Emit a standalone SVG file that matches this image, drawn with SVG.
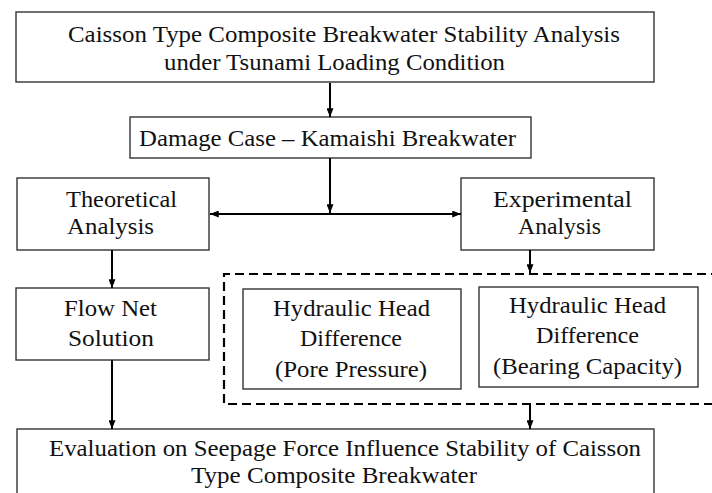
<svg xmlns="http://www.w3.org/2000/svg" width="712" height="493" viewBox="0 0 712 493">
<style>
.box{fill:#fff;stroke:#333;stroke-width:1.4}
.dash{fill:none;stroke:#000;stroke-width:2.2;stroke-dasharray:9 5}
.c{fill:none;stroke:#000;stroke-width:2}
</style>
<defs>
<marker id="ah" viewBox="0 0 10 8" refX="10" refY="4" markerWidth="9" markerHeight="7" markerUnits="userSpaceOnUse" orient="auto-start-reverse">
<path d="M0,0 L10,4 L0,8 Z" fill="#000"/>
</marker>
</defs>
<rect width="712" height="493" fill="#fff"/>
<g font-family="Liberation Serif, Times New Roman, serif" font-size="23" fill="#111">
<g id="n-top">
<rect class="box" x="16" y="12" width="638" height="70"/>
<text x="68" y="42" textLength="552" lengthAdjust="spacingAndGlyphs">Caisson Type Composite Breakwater Stability Analysis</text>
<text x="164" y="70" textLength="341" lengthAdjust="spacingAndGlyphs">under Tsunami Loading Condition</text>
</g>
<g id="n-damage">
<rect class="box" x="130" y="117" width="401" height="41"/>
<text x="139" y="146" textLength="377" lengthAdjust="spacingAndGlyphs">Damage Case – Kamaishi Breakwater</text>
</g>
<g id="n-theoretical">
<rect class="box" x="17" y="178" width="192" height="72"/>
<text x="66" y="207" textLength="111" lengthAdjust="spacingAndGlyphs">Theoretical</text>
<text x="67" y="234" textLength="87" lengthAdjust="spacingAndGlyphs">Analysis</text>
</g>
<g id="n-experimental">
<rect class="box" x="461" y="178" width="193" height="72"/>
<text x="493" y="207" textLength="139" lengthAdjust="spacingAndGlyphs">Experimental</text>
<text x="518" y="234" textLength="83" lengthAdjust="spacingAndGlyphs">Analysis</text>
</g>
<g id="n-flownet">
<rect class="box" x="16" y="288" width="193" height="72"/>
<text x="64" y="316" textLength="93" lengthAdjust="spacingAndGlyphs">Flow Net</text>
<text x="68" y="346" textLength="86" lengthAdjust="spacingAndGlyphs">Solution</text>
</g>
<g id="n-group">
<path class="dash" d="M720,274 H224 V404 H720"/>
</g>
<g id="n-hyd1">
<rect class="box" x="243" y="289" width="218" height="100"/>
<text x="273" y="316" textLength="157" lengthAdjust="spacingAndGlyphs">Hydraulic Head</text>
<text x="300" y="346" textLength="102" lengthAdjust="spacingAndGlyphs">Difference</text>
<text x="275" y="377" textLength="152" lengthAdjust="spacingAndGlyphs">(Pore Pressure)</text>
</g>
<g id="n-hyd2">
<rect class="box" x="479" y="287" width="219" height="100"/>
<text x="509" y="313" textLength="157" lengthAdjust="spacingAndGlyphs">Hydraulic Head</text>
<text x="536" y="343" textLength="103" lengthAdjust="spacingAndGlyphs">Difference</text>
<text x="493" y="374" textLength="189" lengthAdjust="spacingAndGlyphs">(Bearing Capacity)</text>
</g>
<g id="n-eval">
<rect class="box" x="17" y="429" width="637" height="80"/>
<text x="49" y="456" textLength="592" lengthAdjust="spacingAndGlyphs">Evaluation on Seepage Force Influence  Stability of Caisson</text>
<text x="191" y="483" textLength="286" lengthAdjust="spacingAndGlyphs">Type Composite Breakwater</text>
</g>
</g>
<g id="connectors">
<line class="c" x1="330" y1="83" x2="330" y2="117" marker-end="url(#ah)"/>
<line class="c" x1="330" y1="158" x2="330" y2="213" marker-end="url(#ah)"/>
<line class="c" x1="210" y1="214" x2="461" y2="214" marker-start="url(#ah)" marker-end="url(#ah)"/>
<line class="c" x1="112" y1="250" x2="112" y2="288" marker-end="url(#ah)"/>
<line class="c" x1="530" y1="250" x2="530" y2="273" marker-end="url(#ah)"/>
<line class="c" x1="112" y1="360" x2="112" y2="429" marker-end="url(#ah)"/>
<line class="c" x1="530" y1="405" x2="530" y2="429" marker-end="url(#ah)"/>
</g>
</svg>
